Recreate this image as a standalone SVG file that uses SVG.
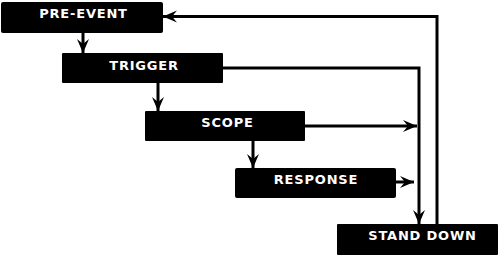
<svg xmlns="http://www.w3.org/2000/svg" width="500" height="256" viewBox="0 0 500 256">
<style>
.box{fill:#000;}
.lbl{fill:#fff;font-family:"DejaVu Sans",sans-serif;font-weight:bold;font-size:13px;letter-spacing:0.8px;text-anchor:middle;}
.con{fill:none;stroke:#000;stroke-width:3;}
</style>
<defs>
<marker id="ah" markerUnits="userSpaceOnUse" markerWidth="16" markerHeight="14" viewBox="-14 -7 16 14" refX="0" refY="0" orient="auto">
<path d="M0,0 L-14,-6 L-9,0 L-14,6 Z" fill="#000"/>
</marker>
</defs>
<rect width="500" height="256" fill="#fff"/>
<g id="connectors">
<path class="con" d="M83,33 V53" marker-end="url(#ah)"/>
<path class="con" d="M158,83 V111" marker-end="url(#ah)"/>
<path class="con" d="M253,141 V168" marker-end="url(#ah)"/>
<path class="con" d="M223,68 H419 V224" marker-end="url(#ah)"/>
<path class="con" d="M305,126 H417" marker-end="url(#ah)"/>
<path class="con" d="M396,182 H414" marker-end="url(#ah)"/>
<path class="con" d="M437,224 V16.5 H163" marker-end="url(#ah)"/>
</g>
<g id="pre-event">
<rect class="box" x="1" y="2" width="162" height="31" rx="2"/>
<text class="lbl" x="83.5" y="17.5">PRE-EVENT</text>
</g>
<g id="trigger">
<rect class="box" x="62" y="53" width="161" height="30" rx="1"/>
<text class="lbl" x="144" y="70">TRIGGER</text>
</g>
<g id="scope">
<rect class="box" x="145" y="111" width="160" height="30" rx="1"/>
<text class="lbl" x="227.5" y="127">SCOPE</text>
</g>
<g id="response">
<rect class="box" x="235" y="168" width="161" height="30" rx="2"/>
<text class="lbl" x="316" y="184">RESPONSE</text>
</g>
<g id="stand-down">
<rect class="box" x="337" y="224" width="161" height="31" rx="1"/>
<text class="lbl" x="422.5" y="240">STAND DOWN</text>
</g>
</svg>
